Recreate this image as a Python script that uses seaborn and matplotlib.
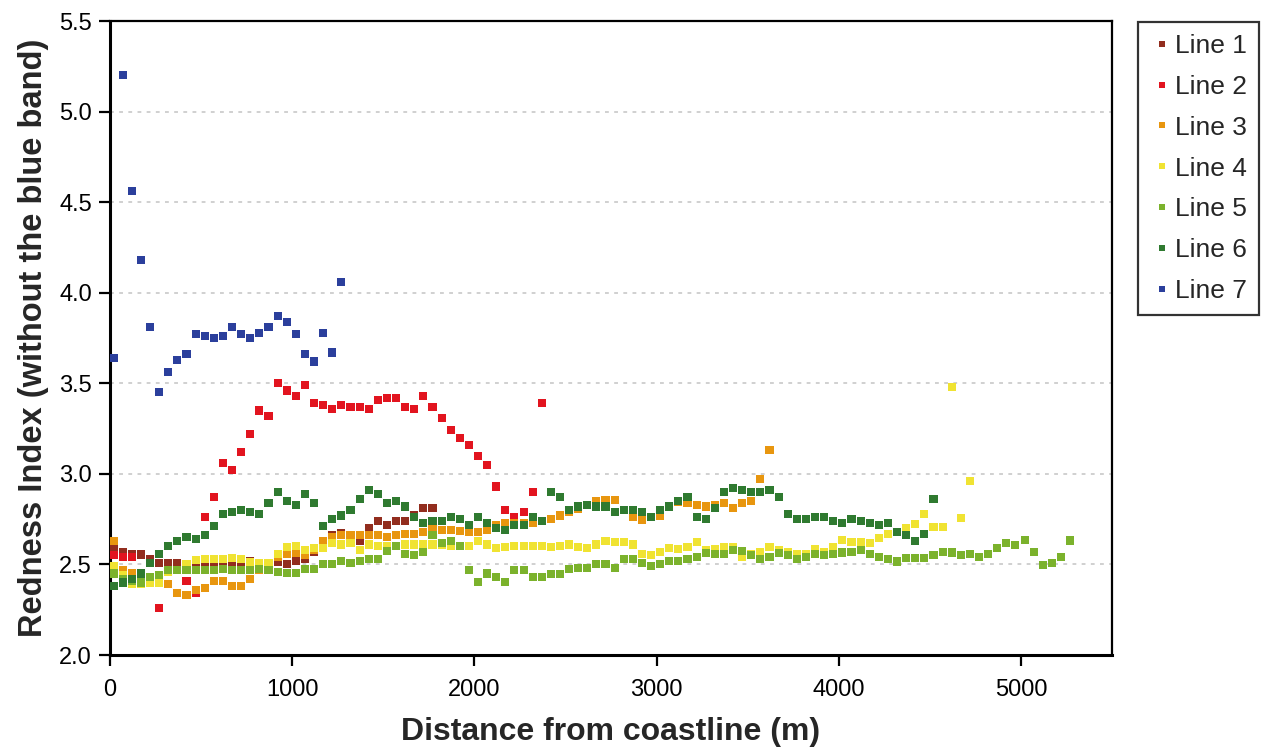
import numpy as np
import pandas as pd
import matplotlib
matplotlib.use("Agg")
import matplotlib.pyplot as plt
import seaborn as sns

# ---------------- data ----------------
line_names = ["Line 1", "Line 2", "Line 3", "Line 4", "Line 5", "Line 6", "Line 7"]
line_colors = ["#922D1E", "#E2141F", "#E8960F", "#F0E332", "#7BB22C", "#2F7A30", "#2B3F9C"]

# sampling positions along the transects (m)
distance = [20, 70, 120, 170, 220, 270, 320, 370, 420, 470,
            520, 570, 620, 670, 720, 770, 820, 870, 920, 970,
            1020, 1070, 1120, 1170, 1220, 1270, 1320, 1370, 1420, 1470,
            1520, 1570, 1620, 1670, 1720, 1770, 1820, 1870, 1920, 1970,
            2020, 2070, 2120, 2170, 2220, 2270, 2320, 2370, 2420, 2470,
            2520, 2570, 2620, 2670, 2720, 2770, 2820, 2870, 2920, 2970,
            3020, 3070, 3120, 3170, 3220, 3270, 3320, 3370, 3420, 3470,
            3520, 3570, 3620, 3670, 3720, 3770, 3820, 3870, 3920, 3970,
            4020, 4070, 4120, 4170, 4220, 4270, 4320, 4370, 4420, 4470,
            4520, 4570, 4620, 4670, 4720, 4770, 4820, 4870, 4920, 4970,
            5020, 5070, 5120, 5170, 5220, 5270]

line1 = [2.585, 2.57, 2.555, 2.555, 2.53, 2.51, 2.51, 2.51, 2.50, 2.49,
         2.49, 2.49, 2.49, 2.50, 2.49, 2.52, 2.50, 2.51, 2.515, 2.50,
         2.52, 2.53, 2.57, 2.60, 2.66, 2.675, 2.63, 2.63, 2.70, 2.74,
         2.72, 2.74, 2.74, 2.77, 2.81, 2.81]

nan = float("nan")
line2 = [2.55, 2.54, 2.54, nan, nan, 2.26, nan, nan, 2.41, 2.34,
         2.76, 2.87, 3.06, 3.02, 3.12, 3.22, 3.35, 3.32, 3.50, 3.46,
         3.43, 3.49, 3.39, 3.38, 3.36, 3.38, 3.37, 3.37, 3.36, 3.41,
         3.42, 3.42, 3.37, 3.36, 3.43, 3.37, 3.31, 3.24, 3.20, 3.16,
         3.10, 3.05, 2.93, 2.80, 2.76, 2.79, 2.90, 3.39]

line3 = [2.63, 2.47, 2.45, 2.43, 2.42, 2.40, 2.39, 2.34, 2.33, 2.36,
         2.37, 2.41, 2.41, 2.38, 2.38, 2.42, 2.47, 2.50, 2.54, 2.56,
         2.565, 2.55, 2.58, 2.63, 2.65, 2.66, 2.66, 2.66, 2.66, 2.66,
         2.65, 2.66, 2.67, 2.67, 2.68, 2.695, 2.69, 2.69, 2.685, 2.68,
         2.68, 2.69, 2.72, 2.73, 2.73, 2.73, 2.73, 2.74, 2.75, 2.77,
         2.79, 2.805, 2.83, 2.85, 2.856, 2.856, 2.80, 2.76, 2.746, 2.76,
         2.77, 2.82, 2.847, 2.84, 2.83, 2.82, 2.83, 2.84, 2.81, 2.84,
         2.85, 2.97, 3.13]

line4 = [2.49, 2.44, 2.39, 2.39, 2.40, 2.40, 2.46, 2.47, 2.50, 2.525,
         2.53, 2.53, 2.53, 2.534, 2.53, 2.515, 2.51, 2.51, 2.56, 2.595,
         2.60, 2.58, 2.59, 2.59, 2.62, 2.61, 2.62, 2.58, 2.61, 2.60,
         2.60, 2.60, 2.61, 2.61, 2.61, 2.61, 2.61, 2.60, 2.60, 2.60,
         2.63, 2.61, 2.59, 2.595, 2.60, 2.60, 2.60, 2.60, 2.595, 2.60,
         2.61, 2.595, 2.59, 2.61, 2.63, 2.626, 2.626, 2.61, 2.56, 2.55,
         2.57, 2.59, 2.584, 2.598, 2.626, 2.58, 2.584, 2.595, 2.595, 2.54,
         2.56, 2.57, 2.595, 2.58, 2.57, 2.56, 2.558, 2.584, 2.57, 2.595,
         2.635, 2.626, 2.626, 2.617, 2.645, 2.669, 2.68, 2.70, 2.724, 2.777,
         2.709, 2.709, 3.48, 2.755, 2.96]

line5 = [2.45, 2.42, 2.41, 2.40, 2.43, 2.44, 2.47, 2.47, 2.47, 2.47,
         2.47, 2.47, 2.475, 2.47, 2.47, 2.47, 2.475, 2.47, 2.46, 2.455,
         2.455, 2.475, 2.475, 2.50, 2.50, 2.52, 2.51, 2.52, 2.53, 2.53,
         2.575, 2.60, 2.56, 2.55, 2.57, 2.66, 2.62, 2.63, 2.60, 2.47,
         2.405, 2.45, 2.43, 2.405, 2.47, 2.47, 2.43, 2.43, 2.445, 2.445,
         2.475, 2.48, 2.48, 2.50, 2.50, 2.48, 2.53, 2.53, 2.51, 2.49,
         2.50, 2.52, 2.52, 2.53, 2.54, 2.565, 2.56, 2.56, 2.58, 2.575,
         2.55, 2.53, 2.54, 2.565, 2.55, 2.53, 2.54, 2.56, 2.55, 2.56,
         2.566, 2.571, 2.58, 2.558, 2.543, 2.529, 2.516, 2.534, 2.534, 2.534,
         2.553, 2.567, 2.566, 2.553, 2.558, 2.54, 2.558, 2.59, 2.617, 2.608,
         2.635, 2.571, 2.497, 2.51, 2.543, 2.632]

line6 = [2.38, 2.40, 2.42, 2.45, 2.51, 2.56, 2.60, 2.63, 2.65, 2.64,
         2.66, 2.71, 2.78, 2.79, 2.80, 2.79, 2.78, 2.84, 2.90, 2.85,
         2.83, 2.89, 2.84, 2.71, 2.75, 2.77, 2.80, 2.86, 2.91, 2.89,
         2.84, 2.85, 2.82, 2.76, 2.73, 2.74, 2.74, 2.76, 2.75, 2.72,
         2.76, 2.73, 2.70, 2.69, 2.72, 2.72, 2.76, 2.74, 2.90, 2.87,
         2.80, 2.82, 2.83, 2.82, 2.82, 2.79, 2.80, 2.80, 2.79, 2.76,
         2.80, 2.82, 2.85, 2.87, 2.76, 2.75, 2.81, 2.90, 2.92, 2.91,
         2.90, 2.90, 2.91, 2.87, 2.78, 2.75, 2.75, 2.76, 2.76, 2.74,
         2.73, 2.75, 2.74, 2.73, 2.72, 2.73, 2.68, 2.66, 2.63, 2.67,
         2.86]

line7 = [3.64, 5.20, 4.56, 4.18, 3.81, 3.45, 3.56, 3.63, 3.66, 3.77,
         3.76, 3.75, 3.76, 3.81, 3.77, 3.75, 3.78, 3.81, 3.87, 3.84,
         3.77, 3.66, 3.62, 3.78, 3.67, 4.06]

series = [line1, line2, line3, line4, line5, line6, line7]

x_ticks = [0, 1000, 2000, 3000, 4000, 5000]
y_ticks = [2.0, 2.5, 3.0, 3.5, 4.0, 4.5, 5.0, 5.5]

# ---------------- build long-form table ----------------
frames = []
for name, vals in zip(line_names, series):
    frames.append(pd.DataFrame({"Distance": distance[:len(vals)],
                                "Redness": vals,
                                "Line": name}))
df = pd.concat(frames, ignore_index=True).dropna()

# ---------------- plot ----------------
sns.set_theme(style="white")
plt.rcParams["font.family"] = ["Liberation Sans", "DejaVu Sans"]

W, H = 1263, 747
fig = plt.figure(figsize=(W / 100, H / 100), dpi=100)
L, R, T, B = 110, 1112, 21, 655
ax = fig.add_axes([L / W, 1 - B / H, (R - L) / W, (B - T) / H])

ax.yaxis.grid(True, linestyle=(0, (2.5, 3.5)), color="#c4c4c4", linewidth=1.1, zorder=0)
ax.set_axisbelow(True)

sns.scatterplot(data=df, x="Distance", y="Redness", hue="Line",
                hue_order=line_names, palette=dict(zip(line_names, line_colors)),
                marker="s", s=34, linewidth=0, ax=ax, zorder=3)

ax.set_xlim(0, 5500)
ax.set_ylim(2.0, 5.5)
ax.set_xticks(x_ticks)
ax.set_xticklabels([str(t) for t in x_ticks])
ax.set_yticks(y_ticks)
ax.set_yticklabels([f"{t:.1f}" for t in y_ticks])

for side, sp in ax.spines.items():
    sp.set_color("black")
    sp.set_visible(True)
ax.spines["left"].set_linewidth(2.2)
ax.spines["bottom"].set_linewidth(2.2)
ax.spines["right"].set_linewidth(1.6)
ax.spines["top"].set_linewidth(1.6)

ax.tick_params(axis="both", direction="out", length=8, width=1.6,
               color="black", labelsize=17, labelcolor="black")
ax.tick_params(axis="x", bottom=True, top=False, pad=9)
ax.tick_params(axis="y", left=True, right=False, pad=5)

ax.set_xlabel("Distance from coastline (m)", fontsize=23, fontweight="bold", labelpad=12)
ax.set_ylabel("Redness Index (without the blue band)", fontsize=23.5, fontweight="bold", labelpad=7)

sns.move_legend(ax, "upper left",
                bbox_to_anchor=((1138 - L) / (R - L), 1 - (22 - T) / (B - T)),
                title=None, frameon=True, fontsize=19, markerscale=0.85,
                labelspacing=0.64, handlelength=0.9, handletextpad=0.05,
                borderpad=0.45, borderaxespad=0.0, fancybox=False)
leg = ax.get_legend()
leg.get_frame().set_edgecolor("black")
leg.get_frame().set_linewidth(1.6)

fig.savefig("out.png", dpi=100)
